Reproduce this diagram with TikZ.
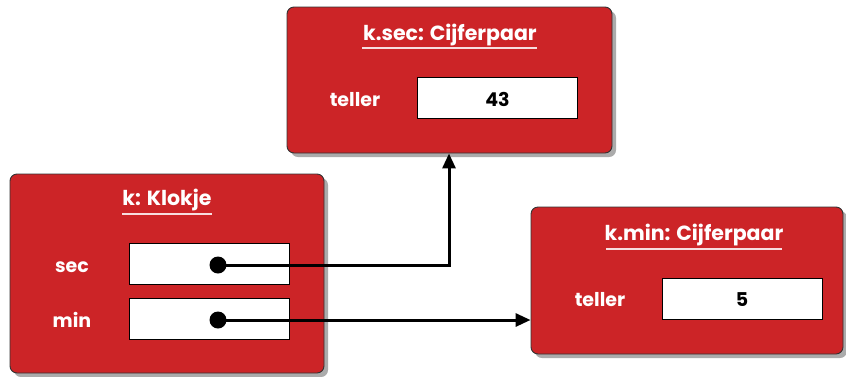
\documentclass[tikz,border=0pt]{standalone}
\usepackage{fontspec}
\setmainfont{Poppins}
\usetikzlibrary{shadows,arrows.meta}
\definecolor{objred}{RGB}{204,36,39}
\definecolor{shadowgray}{RGB}{150,150,150}
\tikzset{
  obj/.style={draw=black!80, line width=0.9pt, fill=objred, rounded corners=7pt,
    drop shadow={shadow xshift=4pt, shadow yshift=-4pt, fill=shadowgray, opacity=0.8}},
  title/.style={text=white, font=\fontsize{20.5}{24}\selectfont\bfseries, inner sep=0pt, anchor=base},
  field/.style={text=white, font=\fontsize{19}{22}\selectfont\bfseries, inner sep=0pt, anchor=base},
  slot/.style={draw=black, line width=0.9pt, fill=white, minimum width=160pt, minimum height=41pt, inner sep=0pt},
  val/.style={text=black, font=\fontsize{19}{22}\selectfont\bfseries, inner sep=0pt, anchor=base},
  uline/.style={draw=white!85!objred, line width=1.2pt},
  ref/.style={draw=black, line width=3pt, -{Triangle[length=15pt,width=13pt]}},
  dot/.style={circle, fill=black, inner sep=0pt, minimum size=17pt}
}
\begin{document}
\begin{tikzpicture}[x=1pt,y=-1pt]
\useasboundingbox (0,0) rectangle (846,376);

% object k.sec
\node[obj, minimum width=325pt, minimum height=146pt] (ksec) at (449.5,80) {};
\node[title] (ksect) at (450,40) {k.sec: Cijferpaar};
\draw[uline] (362,48) -- (537,48);
\node[field] (ksecl) at (355,106) {teller};
\node[slot] (ksecv) at (497.5,97.5) {};
\node[val] (ksecn) at (497.5,106) {43};

% object k
\node[obj, minimum width=314pt, minimum height=199pt] (k) at (167,273.5) {};
\node[title] (kt) at (167,205) {k: Klokje};
\draw[uline] (122,214) -- (212,214);
\node[field] (secl) at (72,272) {sec};
\node[slot] (secv) at (209,264) {};
\node[field] (minl) at (72,327) {min};
\node[slot] (minv) at (209,319) {};

% object k.min
\node[obj, minimum width=312pt, minimum height=147pt] (kmin) at (687,280.5) {};
\node[title] (kmint) at (694,240) {k.min: Cijferpaar};
\draw[uline] (606,249) -- (782,249);
\node[field] (kminl) at (600,306) {teller};
\node[slot] (kminv) at (742,298.5) {};
\node[val] (kminn) at (742,306) {5};

% references
\node[dot] (secd) at (218,265) {};
\node[dot] (mind) at (218,320) {};
\draw[ref] (secd.center) -| (ksec.south -| 449,0);
\draw[ref] (mind.center) -- (kmin.west |- mind);
\end{tikzpicture}
\end{document}
